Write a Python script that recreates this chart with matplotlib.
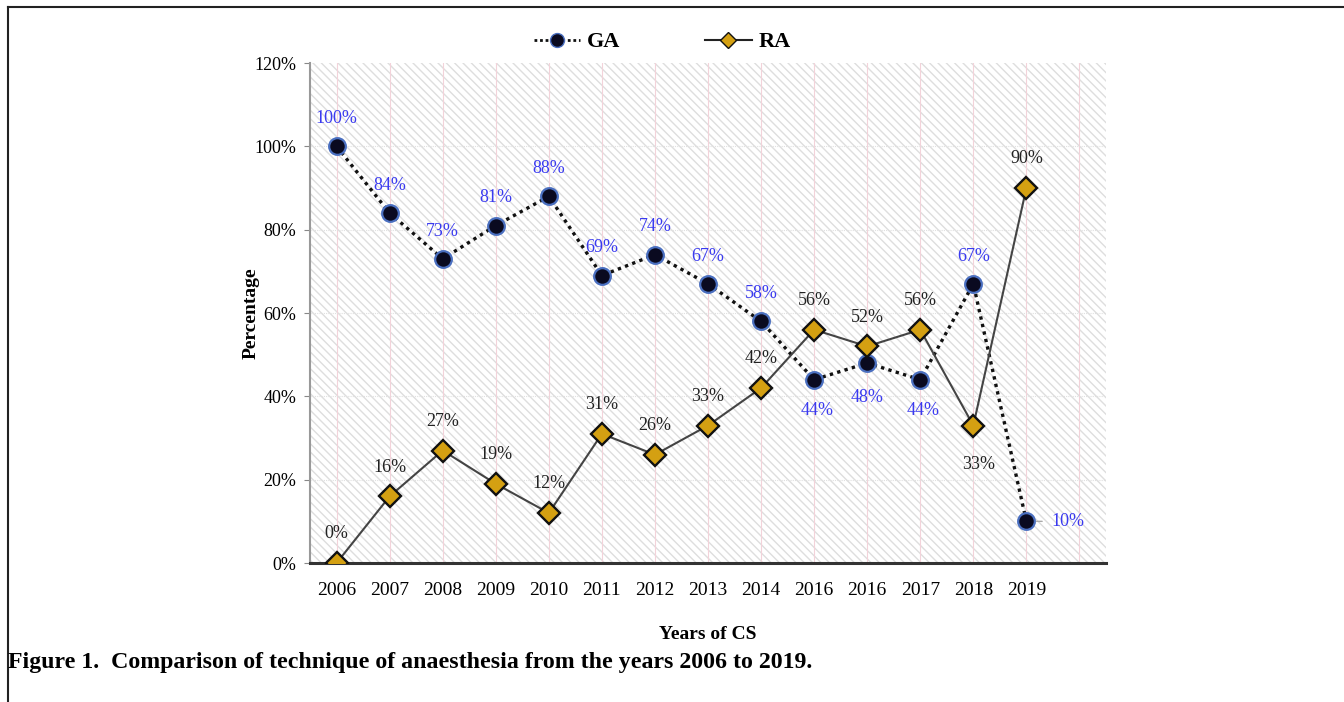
import numpy as np
import matplotlib.pyplot as plt
from matplotlib.lines import Line2D

years = ["2006", "2007", "2008", "2009", "2010", "2011", "2012", "2013",
         "2014", "2016", "2016", "2017", "2018", "2019"]
ga = [100, 84, 73, 81, 88, 69, 74, 67, 58, 44, 48, 44, 67, 10]
ra = [0, 16, 27, 19, 12, 31, 26, 33, 42, 56, 52, 56, 33, 90]
yticks = [0, 20, 40, 60, 80, 100, 120]

# label placement: offset in points from the point
ga_off = [(0, 20)] * 9 + [(2, -22), (0, -25), (2, -22), (0, 20), (30, 0)]
ra_off = [(0, 21)] * 12 + [(4, -28), (0, 21)]

serif = "Liberation Serif"
blue = "#3a3af0"

fig = plt.figure(figsize=(13.44, 7.02), dpi=100)
ax = fig.add_axes([0.2307, 0.198, 0.5922, 0.7122])

x = np.arange(len(years))

# hatched background
ax.set_facecolor("white")
ax.fill_between([-0.5, 14.5], 0, 120, facecolor="none", edgecolor="#dedede",
                hatch="\\\\\\\\", linewidth=0, zorder=0)

# grid
for xi in range(15):
    ax.axvline(xi, color="#f3d3da", linewidth=0.8, zorder=1)
for yv in yticks[1:-1]:
    ax.axhline(yv, color="#e0e0e0", linewidth=0.8, linestyle=(0, (1, 1)), zorder=1)

ax.plot(x, ga, linestyle=(0, (1, 1.3)), color="#111111", linewidth=2.4,
        marker="o", markersize=12, markerfacecolor="#0a0a20",
        markeredgecolor="#4a6fc0", markeredgewidth=1.6, zorder=3)
ax.plot(x, ra, linestyle="-", color="#444444", linewidth=1.5,
        marker="D", markersize=11, markerfacecolor="#d4a012",
        markeredgecolor="#111111", markeredgewidth=1.7, zorder=4)

for i, v in enumerate(ga):
    dx, dy = ga_off[i]
    ax.annotate(f"{v}%", (x[i], v), xytext=(dx, dy), textcoords="offset points",
                ha="center", va="center", color=blue, fontsize=13,
                family=serif, zorder=5)
for i, v in enumerate(ra):
    dx, dy = ra_off[i]
    ax.annotate(f"{v}%", (x[i], v), xytext=(dx, dy), textcoords="offset points",
                ha="center", va="center", color="#222222", fontsize=13,
                family=serif, zorder=5)

# leader line for 10%
ax.annotate("", (x[13] + 0.14, ga[13]), xytext=(x[13] + 0.35, ga[13]),
            arrowprops=dict(arrowstyle="-", color="#aaaaaa", lw=1))

ax.set_xlim(-0.5, 14.5)
ax.set_ylim(0, 120)
ax.set_xticks(x)
ax.set_xticklabels(years, family=serif, fontsize=14)
ax.set_yticks(yticks)
ax.set_yticklabels([f"{t}%" for t in yticks], family=serif, fontsize=13)
ax.tick_params(axis="x", length=0, pad=14)
ax.tick_params(axis="y", length=4, color="#888888", pad=6)

for s in ["top", "right"]:
    ax.spines[s].set_visible(False)
ax.spines["left"].set_color("#999999")
ax.spines["left"].set_linewidth(1.5)
ax.spines["bottom"].set_color("#333333")
ax.spines["bottom"].set_linewidth(2.2)

ax.set_ylabel("Percentage", family=serif, fontweight="bold", fontsize=14, labelpad=-4)
ax.set_xlabel("Years of CS", family=serif, fontweight="bold", fontsize=14, labelpad=19)

handles = [
    Line2D([], [], linestyle=(0, (1, 1)), color="#111111", linewidth=2,
           marker="o", markersize=10, markerfacecolor="#0a0a20",
           markeredgecolor="#4a6fc0"),
    Line2D([], [], linestyle="-", color="#222222", linewidth=1.5,
           marker="D", markersize=8, markerfacecolor="#d4a012",
           markeredgecolor="#111111"),
]
fig.legend(handles, ["GA", "RA"], loc="center", bbox_to_anchor=(0.4926, 0.94),
           ncol=2, frameon=False, columnspacing=3.8, handlelength=2.1,
           handletextpad=0.3, prop=dict(family=serif, weight="bold", size=16))

fig.text(0.006, 0.0556, "Figure 1.  Comparison of technique of anaesthesia from the years 2006 to 2019.",
         family=serif, fontweight="bold", fontsize=17.2, ha="left", va="center")

# figure frame (left and top)
fig.add_artist(Line2D([0.006, 0.006], [0, 0.99], color="#222222", linewidth=1.5))
fig.add_artist(Line2D([0.006, 1], [0.99, 0.99], color="#222222", linewidth=1.5))

fig.savefig("out.png", dpi=100)
